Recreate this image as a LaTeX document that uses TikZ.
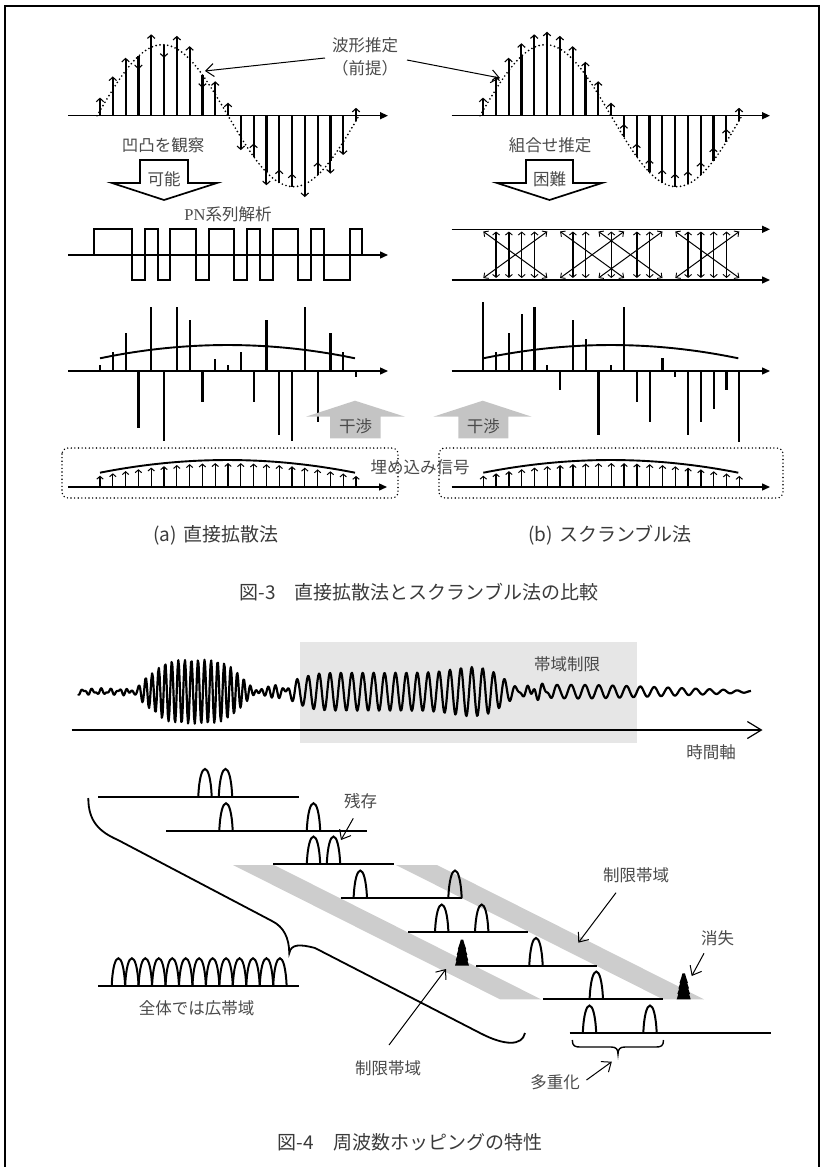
\documentclass[tikz,border=0pt]{standalone}
\usepackage{fontspec}
\setmainfont{Noto Sans CJK JP}
\newfontfamily\lser{Liberation Serif}
\usetikzlibrary{arrows.meta}
\definecolor{txt}{HTML}{3A3A3A}
\definecolor{txtl}{HTML}{4A4A4A}
\definecolor{bandgray}{HTML}{CDCDCD}
\definecolor{rectgray}{HTML}{E6E6E6}
\definecolor{arrgray}{HTML}{C4C4C4}
\begin{document}
\begin{tikzpicture}[x=1pt,y=-1pt,
 lbl/.style={font=\fontsize{16.5}{18}\selectfont,text=txtl,inner sep=0pt},
 captxt/.style={font=\fontsize{19}{21}\selectfont,text=txt,inner sep=0pt},
 axisarr/.style={line width=1.4pt,-{Triangle[length=8pt,width=7pt]}},
 stemline/.style={line width=2.2pt},
 stemarr/.style={line width=2pt,-{Straight Barb[length=3.4pt,width=7.5pt,line width=1.1pt]}},
 dotcurve/.style={line width=1.9pt,dash pattern=on 0pt off 3.9pt,line cap=round},
 labarr/.style={line width=1pt,-{Straight Barb[length=8pt,width=13pt,line width=1pt]}},
 barline/.style={line width=2.2pt},
 envline/.style={line width=1.9pt},
 blockarr/.style={line width=1.7pt,fill=white,line join=miter},
 dblarr/.style={line width=1.4pt,{Straight Barb[length=3pt,width=7pt,line width=0.9pt]}-{Straight Barb[length=3pt,width=7pt,line width=0.9pt]}},
 diagarr/.style={line width=1pt,{Straight Barb[length=3.5pt,width=7pt,line width=0.9pt]}-{Straight Barb[length=3.5pt,width=7pt,line width=0.9pt]}},
 embarr/.style={line width=1.3pt,-{Straight Barb[length=2.8pt,width=6.5pt,line width=1pt]}},
 dotbox/.style={line width=1.6pt,dash pattern=on 0pt off 3.6pt,line cap=round,rounded corners=6pt},
 rowline/.style={line width=2pt},
 bump/.pic={\draw[line width=2pt] (-6.7,0) .. controls (-5.2,-37) and (5.2,-37) .. (6.7,0);},
 vanish/.pic={\fill (-7,0) -- (-5.5,-5) -- (-6.3,-5.5) -- (-4.6,-10.5) -- (-5.3,-11) -- (-3.6,-16) -- (-4.2,-16.5) -- (-2.5,-21.5) -- (-1.2,-26) -- (1.2,-26) -- (2.5,-21.5) -- (4.2,-16.5) -- (3.6,-16) -- (5.3,-11) -- (4.6,-10.5) -- (6.3,-5.5) -- (5.5,-5) -- (7,0) -- cycle;},
 declare function={
  wv(\x)=32*exp(-pow(min(abs(\x-195)/50,1.7),4))*sin(55*mod(\x,72))
   +(19*exp(-pow(min(abs(\x-400)/110,1.24),10))+6*exp(-pow(min(abs(\x-475)/30,2.9),2)))*sin(33*mod(\x,120))
   +7*exp(-pow(min(abs(\x-640)/115,1.31),8))*exp(-pow(min(abs(\x-560)/150,2.9),2))*sin(26*mod(\x,180))
   +6*exp(-pow(min(abs(\x-275)/18,2.9),2))*sin(50*mod(\x,36))
   +5*exp(-pow(min(abs(\x-535)/15,2.9),2))*sin(50*mod(\x,36))
   +exp(-pow(min(abs(\x-105)/45,1.7),4))*(2.2*sin(40*mod(\x,9))+1.3*sin(72*mod(\x,5)));
 }
]
\useasboundingbox (0,0) rectangle (827,1167);
% frame
\draw[line width=2pt] (5,1167) -- (5,6) -- (819,6) -- (819,1167);
\draw[line width=2.3pt] (5,6) -- (819,6);

%%%%%%%%%%%%%%%% FIGURE 3 %%%%%%%%%%%%%%%%
% ---- row 1 left
\draw[dotcurve] plot[domain=97:358,samples=90] (\x,{115.7-71*sin(((\x-97)/131)*180)});
\foreach \s [count=\i] in {1,1,1,-1,1,-1,1,1,-1,1,1,-1,1,-1,1,1,-1,1,-1,-1,1}{
  \pgfmathsetmacro\qx{100+12.8*(\i-1)}
  \pgfmathsetmacro\qy{115.7-71*sin(((\qx-97)/131)*180)}
  \pgfmathsetmacro\qe{\qy-13*(\s)}
  \draw[stemline] (\qx,115.7) -- (\qx,\qy);
  \draw[stemarr] (\qx,\qy) -- (\qx,\qe);
}
\draw[axisarr] (68,115.7) -- (388,115.7);
% ---- row 1 right
\draw[dotcurve] plot[domain=480:741,samples=90] (\x,{115.7-71*sin(((\x-480)/131)*180)});
\foreach \i in {1,...,21}{
  \pgfmathsetmacro\qx{483+12.8*(\i-1)}
  \pgfmathsetmacro\qy{115.7-71*sin(((\qx-480)/131)*180)}
  \pgfmathsetmacro\qe{\qy-13}
  \draw[stemline] (\qx,115.7) -- (\qx,\qy);
  \draw[stemarr] (\qx,\qy) -- (\qx,\qe);
}
\draw[axisarr] (451.7,115.7) -- (770,115.7);

% labels row 1
\node[lbl] (hk) at (365,45) {波形推定};
\node[lbl] (zt) at (365,68) {（前提）};
\coordinate (hkL) at (205,71);
\coordinate (hkR) at (500,78);
\draw[labarr] ([shift={(-40,13)}]hk.center) -- (hkL);
\draw[labarr] ([shift={(42,15)}]hk.center) -- (hkR);
\node[lbl] (ot) at (163,145) {凹凸を観察};
\node[lbl] (ks) at (550,145) {組合せ推定};
% block arrows
\draw[blockarr] (140,160) -- (188,160) -- (188,183) -- (217,183) -- (164,200) -- (112,183) -- (140,183) -- cycle;
\node[lbl] (kano) at (164,179) {可能};
\draw[blockarr] (526,160) -- (573,160) -- (573,183) -- (602,183) -- (549.5,200) -- (497,183) -- (526,183) -- cycle;
\node[lbl] (konn) at (549.5,179) {困難};
\node[lbl] (pn) at (228,214) {{\lser PN}系列解析};

% ---- row 2 left : square wave
\draw[axisarr] (68,255) -- (388,255);
\draw[line width=2pt] (93.6,255) -- (362.4,255);
\draw[line width=2pt,line join=miter] (93.6,255) -- (93.6,229.3) -- (132,229.3) -- (132,280) -- (144.8,280) -- (144.8,229.3) -- (157.6,229.3) -- (157.6,280) -- (170.4,280) -- (170.4,229.3) -- (196,229.3) -- (196,280) -- (208.8,280) -- (208.8,229.3) -- (234.4,229.3) -- (234.4,280) -- (247.2,280) -- (247.2,229.3) -- (260,229.3) -- (260,280) -- (272.8,280) -- (272.8,229.3) -- (298.4,229.3) -- (298.4,280) -- (311.2,280) -- (311.2,229.3) -- (324,229.3) -- (324,280) -- (349.6,280) -- (349.6,229.3) -- (362.4,229.3) -- (362.4,255);
% ---- row 2 right : crossing arrows
\draw[axisarr] (451.7,229.3) -- (770,229.3);
\draw[axisarr] (451.7,280) -- (770,280);
\foreach \i in {2,3,4,5,8,9,11,13,14,17,18,19,20}{
  \pgfmathsetmacro\qx{483.3+12.8*(\i-1)}
  \draw[dblarr] (\qx,231.5) -- (\qx,278);
}
\foreach \a/\b in {1/6,7/12,10/15,16/21}{
  \pgfmathsetmacro\qa{483.3+12.8*(\a-1)}
  \pgfmathsetmacro\qb{483.3+12.8*(\b-1)}
  \draw[diagarr] (\qa,231.5) -- (\qb,278);
  \draw[diagarr] (\qb,231.5) -- (\qa,278);
}

% ---- row 3 : bars
\foreach \yy [count=\i] in {365,352.3,333.3,428.3,306.7,440.7,306.7,320,402.3,359.3,365,352.3,402.3,320,435,440.7,306.7,421.7,333.3,352.3,377.3}{
  \pgfmathsetmacro\qx{100+12.8*(\i-1)}
  \draw[barline] (\qx,371) -- (\qx,\yy);
}
\draw[envline] (100,358.3) .. controls (185,340.6) and (270,340.6) .. (355,358.3);
\draw[axisarr] (68,371) -- (388,371);
\foreach \yy [count=\i] in {301.7,352.3,333.3,314,307.3,365,390,320,339.3,435,365,307.3,402.3,422.3,358.3,377.3,435,422.3,409.3,390,441.7}{
  \pgfmathsetmacro\qx{483.3+12.8*(\i-1)}
  \draw[barline] (\qx,371) -- (\qx,\yy);
}
\draw[envline] (483.3,358.3) .. controls (568.3,340.6) and (653.3,340.6) .. (738.3,358.3);
\draw[axisarr] (451.7,371) -- (770,371);

% interference arrows
\fill[arrgray] (330,438.3) -- (330,416.7) -- (306,416.7) -- (355,400.7) -- (405,416.7) -- (380.7,416.7) -- (380.7,438.3) -- cycle;
\node[lbl] (kanL) at (355.5,426) {干渉};
\fill[arrgray] (458.3,438.3) -- (458.3,416.7) -- (433.3,416.7) -- (482.7,400.7) -- (531.7,416.7) -- (508.3,416.7) -- (508.3,438.3) -- cycle;
\node[lbl] (kanR) at (483.3,426) {干渉};

% ---- row 4 : embedded signal
\draw[dotbox] (62,448) rectangle (398,498);
\draw[dotbox] (439,448) rectangle (783,498);
\foreach \i in {1,...,21}{
  \pgfmathsetmacro\qx{100+12.8*(\i-1)}
  \pgfmathsetmacro\qy{472.7-12.7*(1-((\qx-227.5)/127.5)*((\qx-227.5)/127.5))+3}
  \draw[embarr] (\qx,487) -- (\qx,\qy);
  \pgfmathsetmacro\qr{\qx+383.3}
  \draw[embarr] (\qr,487) -- (\qr,\qy);
}
\draw[envline] (100,472.7) .. controls (185,455.8) and (270,455.8) .. (355,472.7);
\draw[envline] (483.3,472.7) .. controls (568.3,455.8) and (653.3,455.8) .. (738.3,472.7);
\draw[axisarr] (68,487) -- (387,487);
\draw[axisarr] (451.7,487) -- (770,487);
\node[lbl] (ume) at (420,467) {埋め込み信号};

\node[captxt] (capa) at (216,535) {(a)\hspace{0.35em}直接拡散法};
\node[captxt] (capb) at (610,535) {(b)\hspace{0.35em}スクランブル法};
\node[captxt] (fig3) at (419,592) {図-3\hspace{1em}直接拡散法とスクランブル法の比較};

%%%%%%%%%%%%%%%% FIGURE 4 %%%%%%%%%%%%%%%%
\fill[rectgray] (300,642) rectangle (637,743);
\node[lbl] (tai) at (567,664) {帯域制限};
\draw[line width=2.2pt,line join=round] plot[domain=78:751,samples=900,variable=\t] (\t,{691.7-wv(\t)});
\draw[line width=1.2pt,-{Straight Barb[length=14pt,width=17pt,line width=1.2pt]}] (71.5,730) -- (762.5,730);
\node[lbl] (jik) at (711,752) {時間軸};

% diagonal bands
\fill[bandgray] (233,865) -- (274,865) -- (541,999.3) -- (500,999.3) -- cycle;
\fill[bandgray] (396,865) -- (437,865) -- (704,999.3) -- (663,999.3) -- cycle;

% hopping rows
\draw[rowline] (98.3,796.7) -- (299.3,796.7);
\pic at (205,796.7) {bump}; \pic at (225.5,796.7) {bump};
\draw[rowline] (166,831) -- (366.7,831);
\pic at (226,831) {bump}; \pic at (313.5,831) {bump};
\draw[rowline] (273.3,864.3) -- (394,864.3);
\pic at (313.5,864.3) {bump}; \pic at (333.5,864.3) {bump};
\draw[rowline] (340.7,898.3) -- (461.7,898.3);
\pic at (360.3,898.3) {bump}; \pic at (455,898.3) {bump};
\draw[rowline] (408,932.3) -- (528.3,932.3);
\pic at (441.7,932.3) {bump}; \pic at (481.7,932.3) {bump};
\draw[rowline] (476,965.7) -- (596.7,965.7);
\pic at (536,965.7) {bump}; \pic at (462,965.7) {vanish};
\draw[rowline] (543.3,999.3) -- (663.3,999.3);
\pic at (596.3,999.3) {bump}; \pic at (683.7,999.3) {vanish};
\draw[rowline] (569.6,1033.3) -- (771,1033.3);
\pic at (589.5,1033.3) {bump}; \pic at (650,1033.3) {bump};

% wide band signal
\draw[rowline] (98.3,986) -- (299.3,986);
\foreach \k in {0,...,12}{ \pic at ({118.4+13.46*\k},986) {bump}; }
\node[lbl] (zen) at (196.5,1008) {全体では広帯域};

% big brace
\draw[line width=1.8pt] (88.3,798) .. controls (88.3,822) and (100,832) .. (118,840) -- (272,921) .. controls (284,927) and (289,938) .. (289.3,953) .. controls (291,944) and (300,944) .. (315,948) -- (480,1033) .. controls (505,1046) and (522,1046) .. (525,1033);

% multiplex brace
\draw[line width=1.4pt] (572.3,1040) .. controls (572.3,1046) and (575,1047) .. (580,1047) -- (611,1047) .. controls (616,1047) and (618,1049) .. (618,1054) .. controls (618,1049) and (620,1047) .. (625,1047) -- (656,1047) .. controls (661,1047) and (663.5,1046) .. (663.5,1040);

% labels fig 4
\node[lbl] (zan) at (360.5,801) {残存};
\coordinate (zanT) at (341,840);
\draw[labarr] ([shift={(-7.2,17.3)}]zan.center) -- (zanT);
\node[lbl] (sgU) at (636,875) {制限帯域};
\coordinate (sgUT) at (578.3,942.7);
\draw[labarr] ([shift={(-20,17.7)}]sgU.center) -- (sgUT);
\node[lbl] (shs) at (717.5,938) {消失};
\coordinate (shsT) at (691.7,976);
\draw[labarr] ([shift={(-13.5,15.3)}]shs.center) -- (shsT);
\node[lbl] (sgL) at (388,1068) {制限帯域};
\coordinate (sgLT) at (446,969);
\draw[labarr] ([shift={(1,-23)}]sgL.center) -- (sgLT);
\node[lbl] (tj) at (555,1082) {多重化};
\coordinate (tjT) at (611.8,1061.7);
\draw[labarr] ([shift={(31.5,-2)}]tj.center) -- (tjT);

\node[captxt] (fig4) at (410,1142) {図-4\hspace{1em}周波数ホッピングの特性};
\end{tikzpicture}
\end{document}
